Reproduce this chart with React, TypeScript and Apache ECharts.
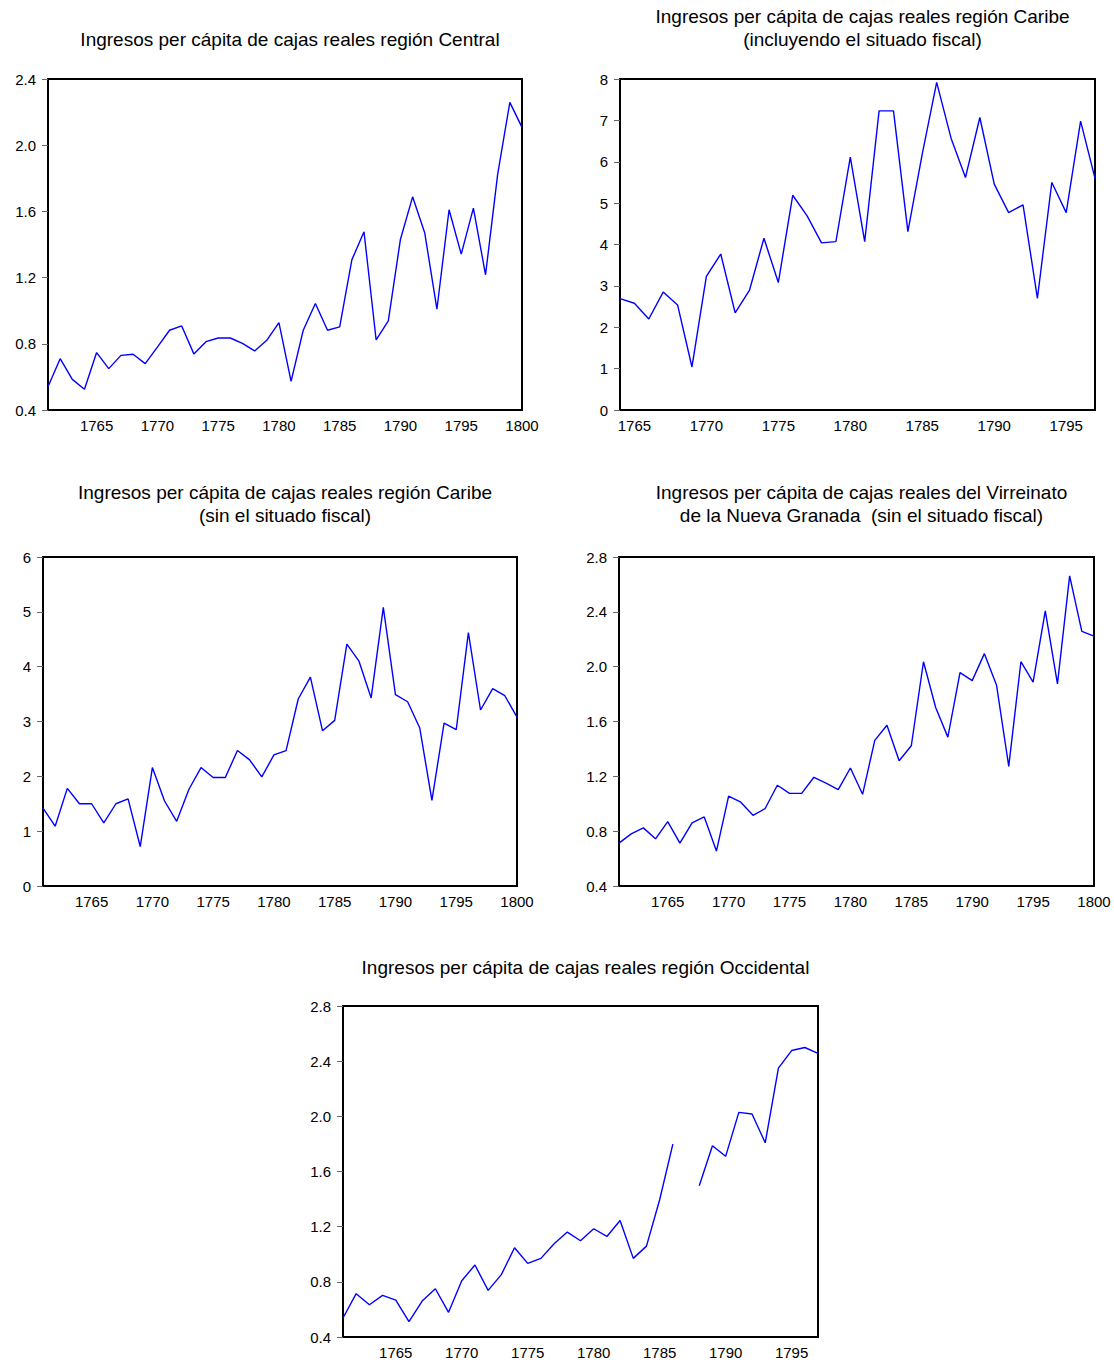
import React, { useEffect, useRef } from "react";
import * as echarts from "echarts";

const yearsA: number[] = Array.from({ length: 40 }, (_, i) => 1761 + i); // 1761-1800
const yearsB: number[] = Array.from({ length: 34 }, (_, i) => 1764 + i); // 1764-1797
const yearsC: number[] = Array.from({ length: 37 }, (_, i) => 1761 + i); // 1761-1797

const central: number[] = [
  0.54, 0.71, 0.585, 0.525, 0.747, 0.65, 0.73, 0.737, 0.68, 0.78,
  0.882, 0.908, 0.739, 0.813, 0.835, 0.835, 0.803, 0.757, 0.821, 0.928,
  0.573, 0.882, 1.043, 0.882, 0.902, 1.307, 1.477, 0.823, 0.938, 1.432,
  1.688, 1.469, 1.009, 1.61, 1.342, 1.62, 1.217, 1.825, 2.259, 2.108,
];

const caribeCon: number[] = [
  2.69, 2.58, 2.2, 2.85, 2.54, 1.04, 3.23, 3.77, 2.35, 2.9,
  4.15, 3.08, 5.19, 4.69, 4.04, 4.07, 6.11, 4.07, 7.23, 7.23,
  4.31, 6.19, 7.92, 6.57, 5.62, 7.07, 5.46, 4.77, 4.96, 2.7,
  5.5, 4.77, 6.98, 5.6,
];

const caribeSin: number[] = [
  1.42, 1.09, 1.78, 1.5, 1.5, 1.15, 1.5, 1.59, 0.72, 2.16,
  1.55, 1.18, 1.76, 2.16, 1.98, 1.98, 2.47, 2.3, 1.99, 2.39,
  2.47, 3.41, 3.81, 2.83, 3.02, 4.41, 4.1, 3.43, 5.08, 3.49,
  3.36, 2.88, 1.56, 2.97, 2.85, 4.62, 3.21, 3.6, 3.47, 3.08,
];

const virreinato: number[] = [
  0.713, 0.78, 0.824, 0.744, 0.87, 0.713, 0.861, 0.904, 0.655, 1.055,
  1.011, 0.916, 0.965, 1.135, 1.076, 1.076, 1.193, 1.15, 1.103, 1.261,
  1.069, 1.462, 1.573, 1.314, 1.423, 2.036, 1.702, 1.486, 1.956, 1.898,
  2.095, 1.864, 1.273, 2.036, 1.888, 2.407, 1.874, 2.662, 2.257, 2.223,
];

const occidental: (number | null)[] = [
  0.538, 0.714, 0.634, 0.702, 0.668, 0.511, 0.661, 0.75, 0.579, 0.808,
  0.922, 0.738, 0.852, 1.047, 0.934, 0.97, 1.076, 1.161, 1.098, 1.185,
  1.129, 1.245, 0.97, 1.059, 1.395, 1.799, null, 1.497, 1.787, 1.71,
  2.029, 2.017, 1.808, 2.349, 2.477, 2.499, 2.457,
];

const titles: string[] = [
  "Ingresos per cápita de cajas reales región Central",
  "Ingresos per cápita de cajas reales región Caribe\n(incluyendo el situado fiscal)",
  "Ingresos per cápita de cajas reales región Caribe\n(sin el situado fiscal)",
  "Ingresos per cápita de cajas reales del Virreinato\nde la Nueva Granada  (sin el situado fiscal)",
  "Ingresos per cápita de cajas reales región Occidental",
];

const FONT = "Liberation Sans, Arial, sans-serif";

type Panel = {
  left: number; right: number; top: number; bottom: number;
  years: number[]; data: (number | null)[];
  min: number; max: number; interval: number; decimals: number;
  title: string; titleY: number;
};

const panels: Panel[] = [
  { left: 48, right: 522, top: 79, bottom: 410, years: yearsA, data: central, min: 0.4, max: 2.4, interval: 0.4, decimals: 1, title: titles[0], titleY: 23 },
  { left: 620, right: 1095, top: 79, bottom: 410, years: yearsB, data: caribeCon, min: 0, max: 8, interval: 1, decimals: 0, title: titles[1], titleY: 0 },
  { left: 43, right: 517, top: 557, bottom: 886, years: yearsA, data: caribeSin, min: 0, max: 6, interval: 1, decimals: 0, title: titles[2], titleY: 476 },
  { left: 619, right: 1094, top: 557, bottom: 886, years: yearsA, data: virreinato, min: 0.4, max: 2.8, interval: 0.4, decimals: 1, title: titles[3], titleY: 476 },
  { left: 343, right: 818, top: 1006, bottom: 1337, years: yearsC, data: occidental, min: 0.4, max: 2.8, interval: 0.4, decimals: 1, title: titles[4], titleY: 951 },
];

const W = 1114;
const H = 1363;

export default function App() {
  const ref = useRef<HTMLDivElement>(null);
  useEffect(() => {
    if (!ref.current) return;
    const chart = echarts.init(ref.current, undefined, { renderer: "svg" });
    const option: any = {
      animation: false,
      backgroundColor: "#ffffff",
      title: panels.map((p) => ({
        text: p.title,
        left: (p.left + p.right) / 2,
        top: p.titleY,
        textAlign: "center",
        textStyle: {
          fontFamily: FONT,
          fontSize: 19,
          fontWeight: "normal",
          color: "#000",
          lineHeight: 23,
        },
      })),
      grid: panels.map((p) => ({
        left: p.left,
        top: p.top,
        width: p.right - p.left,
        height: p.bottom - p.top,
        show: true,
        borderColor: "#000",
        borderWidth: 2,
        backgroundColor: "transparent",
        containLabel: false,
      })),
      xAxis: panels.map((p, i) => ({
        type: "category",
        gridIndex: i,
        data: p.years.map(String),
        boundaryGap: false,
        axisLine: { show: false },
        axisTick: { show: false },
        splitLine: { show: false },
        axisLabel: {
          interval: (_idx: number, val: string) => Number(val) % 5 === 0,
          color: "#000",
          fontFamily: FONT,
          fontSize: 15,
          margin: 8,
        },
      })),
      yAxis: panels.map((p, i) => ({
        type: "value",
        gridIndex: i,
        min: p.min,
        max: p.max,
        interval: p.interval,
        axisLine: { show: false },
        axisTick: { show: true, length: 6, lineStyle: { color: "#666", width: 1 } },
        splitLine: { show: false },
        axisLabel: {
          color: "#000",
          fontFamily: FONT,
          fontSize: 15,
          margin: 12,
          formatter: (v: number) => v.toFixed(p.decimals),
        },
      })),
      series: panels.map((p, i) => ({
        type: "line",
        xAxisIndex: i,
        yAxisIndex: i,
        data: p.data,
        showSymbol: false,
        symbol: "none",
        connectNulls: false,
        lineStyle: { color: "#0000ff", width: 1.4 },
        itemStyle: { color: "#0000ff" },
      })),
    };
    chart.setOption(option);
    return () => chart.dispose();
  }, []);
  return (
    <div
      ref={ref}
      style={{ position: "absolute", left: 0, top: 0, width: W, height: H }}
    />
  );
}
